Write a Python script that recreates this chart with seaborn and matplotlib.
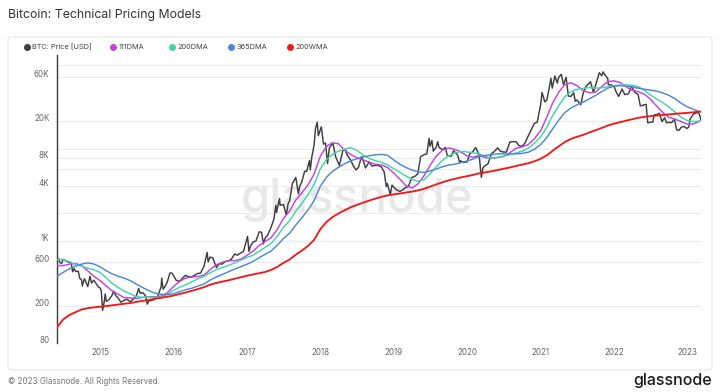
import numpy as np
import pandas as pd
import matplotlib
matplotlib.use("Agg")
import matplotlib.pyplot as plt
import matplotlib.dates as mdates
from matplotlib.ticker import FixedLocator, NullFormatter
from matplotlib.transforms import ScaledTranslation
from matplotlib.lines import Line2D
from matplotlib.patches import FancyBboxPatch
import seaborn as sns

# ---------------- data ----------------
price_dates = [
    "2014-06-01", "2014-06-10", "2014-06-15", "2014-06-25", "2014-07-01", "2014-07-10", "2014-07-15", "2014-07-25",
    "2014-08-01", "2014-08-10", "2014-08-18", "2014-08-25", "2014-09-01", "2014-09-08", "2014-09-15", "2014-09-22",
    "2014-10-01", "2014-10-05", "2014-10-15", "2014-10-25", "2014-11-01", "2014-11-12", "2014-11-20", "2014-12-01",
    "2014-12-15", "2014-12-25", "2015-01-01", "2015-01-07", "2015-01-14", "2015-01-20", "2015-01-27", "2015-02-01",
    "2015-02-15", "2015-03-01", "2015-03-10", "2015-03-20", "2015-04-01", "2015-04-15", "2015-05-01", "2015-05-15",
    "2015-06-01", "2015-06-15", "2015-07-01", "2015-07-12", "2015-07-20", "2015-08-01", "2015-08-15", "2015-08-24",
    "2015-09-01", "2015-09-15", "2015-10-01", "2015-10-15", "2015-11-01", "2015-11-04", "2015-11-11", "2015-11-20",
    "2015-12-01", "2015-12-15", "2015-12-25", "2016-01-01", "2016-01-15", "2016-02-01", "2016-02-15", "2016-03-01",
    "2016-03-15", "2016-04-01", "2016-04-15", "2016-05-01", "2016-05-15", "2016-06-01", "2016-06-17", "2016-06-22",
    "2016-07-01", "2016-07-15", "2016-08-02", "2016-08-15", "2016-09-01", "2016-09-15", "2016-10-01", "2016-10-15",
    "2016-11-01", "2016-11-15", "2016-12-01", "2016-12-15", "2017-01-04", "2017-01-11", "2017-01-20", "2017-02-01",
    "2017-02-15", "2017-03-03", "2017-03-15", "2017-03-24", "2017-04-01", "2017-04-15", "2017-05-01", "2017-05-15",
    "2017-05-25", "2017-05-28", "2017-06-12", "2017-06-15", "2017-07-01", "2017-07-16", "2017-07-25", "2017-08-01",
    "2017-08-15", "2017-09-01", "2017-09-14", "2017-09-20", "2017-10-01", "2017-10-15", "2017-10-25", "2017-11-08",
    "2017-11-12", "2017-11-20", "2017-12-01", "2017-12-08", "2017-12-17", "2017-12-22", "2018-01-06", "2018-01-17",
    "2018-01-27", "2018-02-06", "2018-02-15", "2018-03-05", "2018-03-18", "2018-04-06", "2018-04-24", "2018-05-05",
    "2018-05-15", "2018-06-01", "2018-06-15", "2018-06-28", "2018-07-10", "2018-07-25", "2018-08-01", "2018-08-14",
    "2018-09-01", "2018-09-15", "2018-10-01", "2018-10-15", "2018-11-01", "2018-11-15", "2018-11-25", "2018-12-01",
    "2018-12-15", "2018-12-24", "2019-01-01", "2019-01-15", "2019-02-01", "2019-02-15", "2019-03-01", "2019-03-15",
    "2019-04-02", "2019-04-15", "2019-05-01", "2019-05-15", "2019-06-01", "2019-06-15", "2019-06-26", "2019-07-01",
    "2019-07-10", "2019-07-17", "2019-08-01", "2019-08-08", "2019-08-15", "2019-09-01", "2019-09-15", "2019-09-25",
    "2019-10-15", "2019-10-26", "2019-11-01", "2019-11-15", "2019-11-25", "2019-12-01", "2019-12-15", "2020-01-01",
    "2020-01-15", "2020-02-01", "2020-02-13", "2020-03-01", "2020-03-12", "2020-03-20", "2020-04-01", "2020-04-15",
    "2020-05-01", "2020-05-15", "2020-06-01", "2020-06-15", "2020-07-01", "2020-07-15", "2020-08-01", "2020-08-15",
    "2020-09-01", "2020-09-15", "2020-10-01", "2020-10-15", "2020-11-01", "2020-11-15", "2020-12-01", "2020-12-15",
    "2021-01-01", "2021-01-08", "2021-01-22", "2021-02-01", "2021-02-15", "2021-02-21", "2021-02-28", "2021-03-13",
    "2021-03-25", "2021-04-01", "2021-04-14", "2021-04-25", "2021-05-08", "2021-05-19", "2021-06-01", "2021-06-15",
    "2021-06-22", "2021-07-01", "2021-07-20", "2021-08-01", "2021-08-15", "2021-09-06", "2021-09-21", "2021-10-01",
    "2021-10-20", "2021-11-01", "2021-11-08", "2021-11-15", "2021-12-01", "2021-12-04", "2021-12-15", "2022-01-01",
    "2022-01-10", "2022-01-24", "2022-02-10", "2022-02-24", "2022-03-15", "2022-03-29", "2022-04-15", "2022-05-01",
    "2022-05-12", "2022-05-20", "2022-06-01", "2022-06-10", "2022-06-18", "2022-07-01", "2022-07-13", "2022-07-20",
    "2022-08-01", "2022-08-15", "2022-08-28", "2022-09-10", "2022-09-20", "2022-10-01", "2022-10-15", "2022-10-29",
    "2022-11-09", "2022-11-21", "2022-12-01", "2022-12-15", "2022-12-30", "2023-01-08", "2023-01-15", "2023-02-01",
    "2023-02-15", "2023-02-20", "2023-03-01", "2023-03-05", "2023-03-10",
]
price_values = [
    630, 650, 590, 580, 640, 620, 620, 600,
    590, 590, 470, 510, 475, 475, 475, 400,
    385, 330, 395, 355, 325, 420, 355, 380,
    345, 320, 315, 295, 180, 210, 270, 225,
    235, 260, 290, 260, 245, 220, 232, 237,
    223, 237, 258, 310, 275, 280, 260, 210,
    228, 230, 238, 255, 325, 400, 305, 325,
    360, 455, 455, 430, 380, 370, 400, 430,
    415, 415, 430, 450, 455, 535, 760, 600,
    675, 665, 520, 570, 570, 605, 615, 640,
    730, 710, 750, 780, 1130, 780, 900, 985,
    1010, 1270, 1250, 940, 1080, 1180, 1420, 1730,
    2450, 2050, 2900, 2450, 2500, 1930, 2550, 2720,
    4200, 4900, 3250, 3900, 4400, 5700, 5700, 7450,
    5900, 8200, 10900, 16500, 19300, 13800, 17200, 11200,
    11500, 6900, 10200, 11500, 8200, 6600, 9700, 9800,
    8500, 7500, 6500, 5900, 6300, 8200, 7600, 6200,
    7200, 6500, 6600, 6600, 6350, 5600, 3900, 4200,
    3200, 4050, 3850, 3600, 3450, 3600, 3800, 3900,
    4900, 5000, 5350, 8200, 8600, 8800, 12900, 10600,
    12300, 9400, 10400, 11900, 10300, 9750, 10300, 8400,
    8300, 9500, 9200, 8600, 7100, 7400, 7100, 7200,
    8800, 9400, 10300, 8600, 4900, 6200, 6600, 6900,
    8800, 9300, 10200, 9400, 9200, 9200, 11800, 11900,
    11900, 10800, 10600, 11500, 13800, 15900, 18800, 19300,
    29400, 40500, 32000, 33500, 48000, 57500, 45000, 61000,
    51000, 58800, 63500, 49000, 58800, 37000, 36700, 40200,
    32500, 33500, 29800, 39900, 47000, 52700, 40600, 48100,
    66000, 61300, 67500, 63600, 57200, 49000, 48900, 47700,
    41800, 36600, 44000, 38300, 39300, 47400, 40500, 38500,
    29000, 29200, 29800, 30100, 19000, 19300, 19300, 23200,
    23300, 24100, 19600, 21600, 19000, 19300, 19100, 20800,
    15900, 15800, 17000, 17400, 16500, 17100, 20900, 23700,
    24300, 24800, 23600, 22400, 20200,
]

# moving averages: first day of each month Jun-2014 .. Mar-2023, plus last day 2023-03-10
ma_dates = list(pd.date_range("2014-06-01", "2023-03-01", freq="MS")) + [pd.Timestamp("2023-03-10")]

dma111 = [
    550, 547, 565, 577, 550, 481, 421,
    377, 330, 294, 269, 247, 245, 242, 248, 253, 252, 256, 277,
    324, 369, 400, 412, 417, 431, 493, 558, 595, 620, 618, 642,
    705, 786, 893, 994, 1092, 1346, 1757, 2121, 2792, 3330, 4068, 5305,
    8289, 10597, 11554, 11351, 9622, 8689, 8000, 7568, 7176, 6800, 6695, 6268,
    5465, 4689, 4022, 3768, 4146, 5092, 6585, 8316, 9659, 10192, 9835, 9214,
    8368, 8103, 8454, 8003, 7886, 8024, 8238, 9038, 10084, 10446, 11086, 12781,
    15592, 21927, 30770, 40611, 49149, 51459, 48014, 42308, 40014, 40719, 46714, 52932,
    53927, 51689, 46870, 42732, 41289, 38816, 34332, 28878, 24503, 21859, 20789, 19643,
    18395, 18519, 19681,
    20100,
]
dma200 = [
    638, 633, 602, 566, 540, 513, 495,
    462, 405, 353, 318, 291, 271, 253, 249, 251, 248, 250, 267,
    295, 319, 339, 365, 394, 418, 457, 495, 521, 550, 583, 626,
    669, 709, 776, 858, 947, 1134, 1413, 1662, 2107, 2565, 3195, 4107,
    6055, 7645, 8618, 9382, 9897, 10240, 9642, 8571, 7841, 7432, 7117, 6689,
    6069, 5578, 5087, 4675, 4453, 4631, 5336, 6402, 7467, 8379, 8981, 9346,
    9224, 8995, 8843, 8247, 7943, 8080, 8320, 8598, 9015, 9383, 10168, 11446,
    13336, 17134, 22537, 29117, 36116, 41081, 43672, 44728, 45650, 45079, 45358, 46576,
    47703, 48614, 48849, 48274, 46846, 42731, 37961, 34281, 31468, 28217, 24849, 21846,
    20077, 19621, 19828,
    19900,
]
dma365 = [
    419, 461, 505, 541, 568, 585, 570,
    532, 482, 447, 420, 401, 377, 345, 317, 294, 276, 268, 266,
    272, 286, 300, 312, 328, 347, 381, 412, 439, 470, 502, 533,
    566, 608, 663, 723, 787, 907, 1070, 1224, 1500, 1792, 2180, 2745,
    3926, 4933, 5637, 6292, 6858, 7408, 7758, 8142, 8375, 8583, 8683, 8508,
    7567, 6792, 6308, 5888, 5646, 5538, 5746, 6046, 6379, 6646, 6804, 7054,
    7354, 7746, 8246, 8450, 8625, 8800, 8817, 8725, 8808, 8883, 9175, 9850,
    11058, 13233, 16258, 20267, 24433, 27533, 29725, 31775, 34592, 37525, 41325, 45000,
    47292, 47842, 47392, 46342, 45033, 43808, 42858, 41808, 39883, 37708, 34550, 30967,
    28275, 26533, 25092,
    24700,
]
wma200 = [
    118, 143, 160, 172, 184, 190, 194,
    197, 200, 204, 208, 212, 216, 222, 228, 233, 240, 246, 252,
    260, 270, 280, 292, 305, 320, 340, 355, 368, 380, 395, 410,
    425, 440, 452, 467, 491, 530, 585, 636, 718, 795, 893, 1037,
    1349, 1619, 1815, 2000, 2160, 2331, 2468, 2612, 2750, 2885, 3019, 3131,
    3206, 3281, 3356, 3437, 3543, 3693, 3890, 4117, 4344, 4550, 4723, 4897,
    5047, 5220, 5422, 5551, 5693, 5881, 6075, 6271, 6511, 6728, 6969, 7308,
    7758, 8484, 9458, 10601, 11788, 12745, 13438, 14092, 14966, 15801, 16725, 17760,
    18625, 19323, 20032, 20758, 21512, 22049, 22434, 22760, 23105, 23418, 23764, 24066,
    24355, 24709, 25104,
    25200,
]

y_ticks = [80, 200, 600, 1000, 4000, 8000, 20000, 60000]
y_tick_labels = ["80", "200", "600", "1K", "4K", "8K", "20K", "60K"]
y_minor_grid = [2000, 6000, 10000, 80000]

series_names = ["BTC: Price [USD]", "111DMA", "200DMA", "365DMA", "200WMA"]
colors = {"BTC: Price [USD]": "#3f3f3f", "111DMA": "#c443e0", "200DMA": "#42d6a7",
          "365DMA": "#4a89d6", "200WMA": "#ee1b1b"}
widths = {"BTC: Price [USD]": 1.05, "111DMA": 1.05, "200DMA": 1.05, "365DMA": 1.05, "200WMA": 1.35}

# ---------------- figure ----------------
sns.set_theme(style="white")
plt.rcParams["font.family"] = ["Inter", "DejaVu Sans"]

W, H = 721, 392
fig = plt.figure(figsize=(W / 100, H / 100), dpi=100)
fig.patch.set_facecolor("white")

# card border
fig.patches.append(FancyBboxPatch((8 / W, 1 - 370 / H), 704 / W, 333 / H,
                                  boxstyle="round,pad=0,rounding_size=0.006",
                                  transform=fig.transFigure, fill=False,
                                  ec="#e6e6e6", lw=0.8, zorder=0))

ax = fig.add_axes([57 / W, (H - 343) / H, (701 - 57) / W, (343 - 65) / H])
ax.patch.set_alpha(0)

price_df = pd.DataFrame({"date": pd.to_datetime(price_dates), "value": price_values})
ma_df = pd.DataFrame({"date": ma_dates, "111DMA": dma111, "200DMA": dma200,
                      "365DMA": dma365, "200WMA": wma200})

# watermark
ax.text(0.466, 0.471, "glassnode", transform=ax.transAxes, ha="center", va="baseline",
        fontsize=34, color="#e8e8e8", fontweight="medium", zorder=1)

sns.lineplot(data=price_df, x="date", y="value", color=colors["BTC: Price [USD]"],
             lw=widths["BTC: Price [USD]"], ax=ax, zorder=3)
for name in ["111DMA", "200DMA", "365DMA", "200WMA"]:
    sns.lineplot(data=ma_df, x="date", y=name, color=colors[name], lw=widths[name], ax=ax, zorder=4)

ax.set_yscale("log")
ax.set_ylim(80, 80000)
ax.set_xlim(pd.Timestamp("2014-06-01"), pd.Timestamp("2023-03-10"))
ax.set_xlabel("")
ax.set_ylabel("")

ax.yaxis.set_major_locator(FixedLocator(y_ticks))
ax.set_yticklabels(y_tick_labels)
ax.yaxis.set_minor_locator(FixedLocator(y_minor_grid))
ax.yaxis.set_minor_formatter(NullFormatter())
ax.grid(True, which="both", axis="y", color="#ececec", lw=0.8, zorder=0)
ax.grid(False, axis="x")
ax.set_axisbelow(True)

ax.xaxis.set_major_locator(mdates.YearLocator())
ax.xaxis.set_major_formatter(mdates.DateFormatter("%Y"))

ax.tick_params(axis="y", which="both", length=0, pad=5.5, labelsize=5.8, labelcolor="#666666")
ax.tick_params(axis="x", which="major", length=2, width=0.6, color="#dddddd", pad=1.8,
               labelsize=5.8, labelcolor="#666666", bottom=True)

off = ScaledTranslation(0, 3.5 / 100, fig.dpi_scale_trans)
for lab in ax.get_yticklabels():
    lab.set_transform(lab.get_transform() + off)

for s in ["top", "right", "bottom"]:
    ax.spines[s].set_visible(False)
ax.spines["left"].set_color("#3a3a3a")
ax.spines["left"].set_linewidth(1.0)
ax.spines["left"].set_bounds(80, 103000)

# title
fig.text(8 / W, 1 - 15 / H, "Bitcoin: Technical Pricing Models", fontsize=8.8,
         color="#333333", ha="left", va="center")

# legend
leg_pos = [27, 113, 172, 231, 290]
for name, xp in zip(series_names, leg_pos):
    fig.add_artist(Line2D([xp / W], [1 - 47 / H], marker="o", markersize=4,
                          color=colors[name], transform=fig.transFigure, lw=0))
    fig.text((xp + 5.5) / W, 1 - 47 / H, name, fontsize=5.3, color="#444444",
             ha="left", va="center")

# footer
fig.text(8 / W, 1 - 381 / H, "© 2023 Glassnode. All Rights Reserved.", fontsize=5.8,
         color="#777777", ha="left", va="center")
fig.text(712 / W, 1 - 381 / H, "glassnode", fontsize=11.5, color="#1a1a1a",
         ha="right", va="center", fontweight="medium")

fig.savefig("out.png", dpi=100, facecolor="white")
